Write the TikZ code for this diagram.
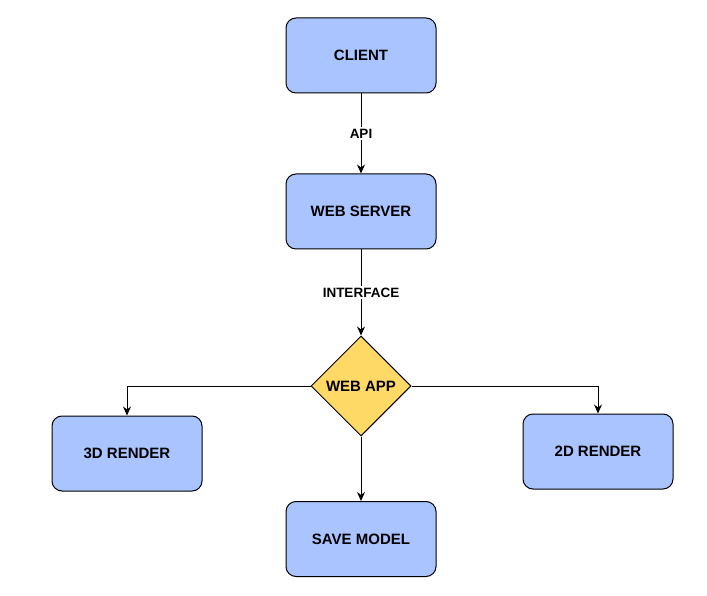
\documentclass[tikz,border=0pt]{standalone}
\usepackage{fontspec}
\setmainfont{Liberation Sans}
\usepackage{tikz}
\usetikzlibrary{arrows.meta,positioning,shapes.geometric}
\definecolor{boxfill}{HTML}{A9C4FF}
\definecolor{appfill}{HTML}{FFD966}

\begin{document}
\begin{tikzpicture}[x=1pt,y=-1pt,
  unit/.style={draw,line width=1pt,rounded corners=10pt,fill=boxfill,
    minimum width=150pt,minimum height=75pt,inner sep=0pt,
    font=\fontsize{15}{18}\selectfont\bfseries},
  decide/.style={draw,line width=1pt,diamond,aspect=1,fill=appfill,
    minimum width=100pt,minimum height=100pt,inner sep=0pt,
    font=\fontsize{15}{18}\selectfont\bfseries},
  link/.style={line width=1pt,-{Stealth[length=9pt,width=8pt]}},
  tag/.style={fill=white,inner sep=2pt,font=\fontsize{13.5}{16}\selectfont\bfseries}]
\useasboundingbox (0,0) rectangle (707,596);
\node[unit] (client) at (361,55.5) {CLIENT};
\node[unit] (server) at (361,211.5) {WEB SERVER};
\node[decide] (app) at (361,386) {WEB APP};
\node[unit] (r3d) at (127,453.5) {3D RENDER};
\node[unit] (r2d) at (598,451.5) {2D RENDER};
\node[unit] (save) at (361,539) {SAVE MODEL};
\draw[link] (client) -- node[tag] {API} (server);
\draw[link] (server) -- node[tag] {INTERFACE} (app);
\draw[link] (app.west) -| (r3d);
\draw[link] (app.east) -| (r2d);
\draw[link] (app) -- (save);
\end{tikzpicture}
\end{document}
